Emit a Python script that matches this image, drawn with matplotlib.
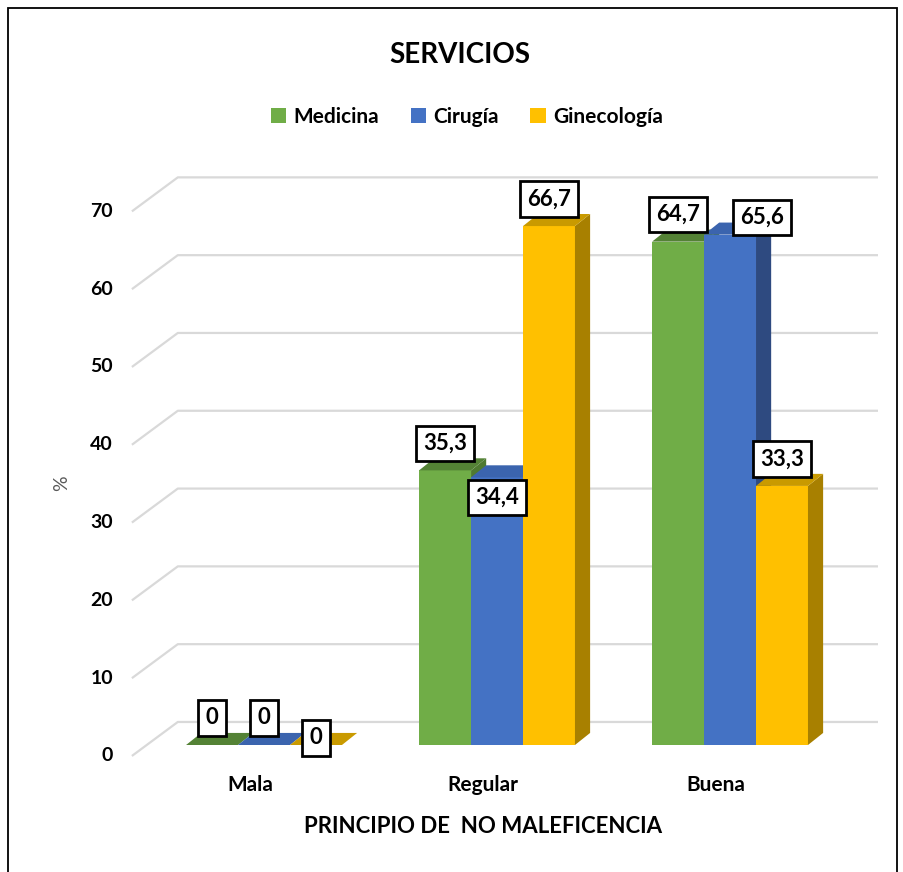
import matplotlib
matplotlib.use("Agg")
import matplotlib.pyplot as plt
from matplotlib.patches import Rectangle, Polygon, Patch

plt.rcParams['font.family'] = ['Lato', 'DejaVu Sans']

# data
categories = ["Mala", "Regular", "Buena"]
series = ["Medicina", "Cirugía", "Ginecología"]
medicina = [0, 35.3, 64.7]
cirugia = [0, 34.4, 65.6]
ginecologia = [0, 66.7, 33.3]
yticks = [0, 10, 20, 30, 40, 50, 60, 70]

front_cols = ["#70AD47", "#4472C4", "#FFC000"]
top_cols = ["#548235", "#3B64AE", "#C99A00"]
side_cols = ["#4F7A31", "#2E4A80", "#A88000"]

# label nudges in pixels (series, category) -> (dx, dy), default is above top
label_nudge = {(1, 1): (0, -47), (2, 0): (0, -20), (1, 2): (32, -10)}

W = 0.223      # bar width (category units)
DX = 0.065     # depth offset x
DY = 1.55      # depth offset y
WX, WY = 0.197, 2.96   # back wall offset

fig = plt.figure(figsize=(9.04, 8.72), dpi=100)
ax = fig.add_axes([0.1374, 0.1278, 0.8377, 0.687])
ax.set_xlim(-0.6, 2.65)
ax.set_ylim(-2, 75)
ax.axis("off")

# gridlines with perspective
for v in yticks:
    ax.plot([-0.567, -0.567 + WX, 2.635], [v - 1.41, v + WY, v + WY],
            color="#D9D9D9", lw=1.6, zorder=1, solid_capstyle="butt")
    ax.text(-0.648, v - 1.41, str(v), ha="right", va="center",
            fontsize=14, fontweight="bold", clip_on=False)

values = [medicina, cirugia, ginecologia]
z = 2
for ci, cat in enumerate(categories):
    for si in range(3):
        h = values[si][ci]
        x0 = ci + (si - 1.5) * W
        x1 = x0 + W
        ax.add_patch(Rectangle((x0, 0), W, h, facecolor=front_cols[si],
                               edgecolor="none", zorder=z))
        ax.add_patch(Polygon([(x1, 0), (x1 + DX, DY), (x1 + DX, h + DY), (x1, h)],
                             closed=True, facecolor=side_cols[si],
                             edgecolor="none", zorder=z))
        ax.add_patch(Polygon([(x0, h), (x0 + DX, h + DY), (x1 + DX, h + DY), (x1, h)],
                             closed=True, facecolor=top_cols[si],
                             edgecolor="none", zorder=z))
        z += 1

for ci, cat in enumerate(categories):
    for si in range(3):
        h = values[si][ci]
        x0 = ci + (si - 1.5) * W
        dx, dy = label_nudge.get((si, ci), (0, 0))
        txt = ("%.1f" % h).replace(".", ",") if h else "0"
        ax.annotate(txt, (x0 + W / 2, h), xytext=(dx, 27 + dy),
                    textcoords="offset pixels", ha="center", va="center",
                    fontsize=16, fontweight="bold", zorder=50,
                    bbox=dict(boxstyle="square,pad=0.33", fc="white",
                              ec="black", lw=2))
    ax.text(ci - 0.06, -5.14, cat, ha="center", va="center",
            fontsize=15, fontweight="bold", clip_on=False)

fig.text(483 / 904, 1 - 826 / 872, "PRINCIPIO DE  NO MALEFICENCIA",
         ha="center", va="center", fontsize=16, fontweight="bold")
fig.text(62 / 904, 1 - 483 / 872, "%", rotation=90, ha="center", va="center",
         fontsize=14, color="#595959")
fig.text(460 / 904, 1 - 55 / 872, "SERVICIOS", ha="center", va="center",
         fontsize=20, fontweight="bold")

handles = [Patch(facecolor=c, edgecolor="none") for c in front_cols]
fig.legend(handles, series, loc="center", bbox_to_anchor=(467 / 904, 1 - 117 / 872),
           ncol=3, frameon=False, prop=dict(size=15, weight="bold"),
           handlelength=0.75, handleheight=0.75, handletextpad=0.35, columnspacing=1.5)

fig.patches.append(Rectangle((8 / 904, -0.01), 889 / 904, 1 - 8 / 872 + 0.01,
                             transform=fig.transFigure, fill=False,
                             edgecolor="black", lw=1.3))

fig.savefig("out.png", dpi=100)
